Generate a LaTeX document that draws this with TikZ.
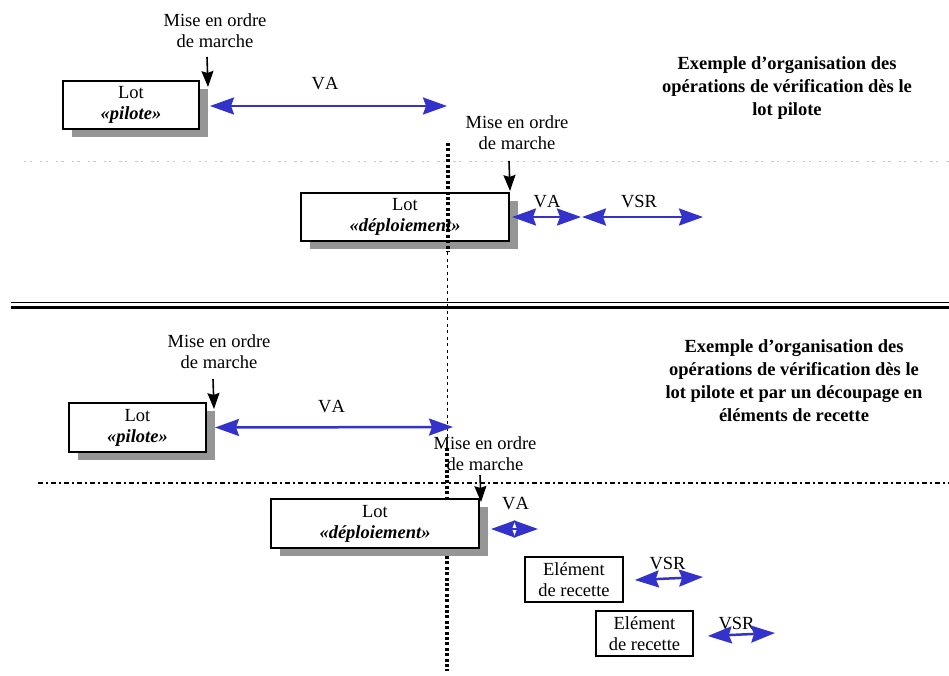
\documentclass[tikz,border=0pt]{standalone}
\usepackage{fontspec}
\setmainfont[Kerning=Off]{Liberation Serif}
\usetikzlibrary{arrows.meta,calc,shadows}
\definecolor{vblue}{RGB}{51,51,204}
\definecolor{shadowgray}{RGB}{150,150,150}
\definecolor{lightdots}{RGB}{200,200,200}
\tikzset{
  boxshadow/.style={drop shadow={shadow xshift=9pt,shadow yshift=-8pt,fill=shadowgray,opacity=1}},
  lotbox/.style={draw, line width=2pt, fill=white, inner sep=0pt, align=center,
    font=\fontsize{18.5}{21}\selectfont, boxshadow},
  elbox/.style={draw, line width=1.6pt, fill=white, inner sep=0pt, align=center,
    font=\fontsize{18.5}{21}\selectfont},
  lbl/.style={inner sep=0pt, align=center, font=\fontsize{18.5}{21.5}\selectfont},
  ttl/.style={inner sep=0pt, align=center, font=\fontsize{18.5}{23}\selectfont\bfseries},
  dur/.style={draw=vblue, line width=2.5pt,
    {Stealth[length=24pt,width=17pt,inset=3pt]}-{Stealth[length=24pt,width=17pt,inset=3pt]}},
  milestone/.style={draw, line width=1.6pt, -{Stealth[length=16pt,width=12pt,inset=2pt]}},
  thickdots/.style={line width=3.2pt, dash pattern=on 3pt off 2.4pt},
  thindash/.style={line width=0.9pt, dash pattern=on 3pt off 3.5pt},
}
\begin{document}
\begin{tikzpicture}[x=1pt,y=-1pt]
\useasboundingbox (0,0) rectangle (949,675);

% separators
\draw[lightdots, line width=1pt, dash pattern=on 2.3pt off 3.3pt on 2.3pt off 8pt] (24,161) -- (949,161);
\draw[line width=1.5pt] (11,302.5) -- (949,302.5);
\draw[line width=3.5pt] (11,307.5) -- (949,307.5);
\draw[line width=2.5pt, dash pattern=on 5pt off 3pt on 2pt off 3pt] (38,483) -- (949,483);

% vertical reference line (lower parts, behind boxes)
\draw[thindash] (447.5,252) -- (447.5,448);
\draw[thickdots] (447,448) -- (447,671);

% titles
\node[ttl, anchor=north] (title1) at (787,56) {Exemple d’organisation des\\opérations de vérification dès le\\lot pilote};
\node[ttl, anchor=north] (title2) at (794,339) {Exemple d’organisation des\\opérations de vérification dès le\\lot pilote et par un découpage en\\éléments de recette};

% ---------- upper example ----------
\node[lotbox, minimum width=136pt, minimum height=48pt] (P1) at (131,105) {Lot\\\textbf{\textit{«pilote»}}};
\node[lotbox, minimum width=208pt, minimum height=48pt] (D1) at (405,217) {Lot\\\textbf{\textit{«déploiement»}}};
\draw[thickdots] (448,143) -- (448,252);

\node[lbl, anchor=south] (M1) at (215,48) {Mise en ordre\\de marche};
\coordinate (m1s) at (207,57);
\draw[milestone] (m1s) -- ($(P1.north east)+(8,7)$);
\node[lbl, anchor=south] (M2) at (517,150) {Mise en ordre\\de marche};
\coordinate (m2s) at (509,161);
\draw[milestone] (m2s) -- ($(D1.north east)+(0,-1)$);

\node[lbl, anchor=base] (VA1) at (325,89) {VA};
\coordinate (va1e) at (447,106);
\draw[dur] ($(P1.east)+(10,1)$) -- (va1e);

\node[lbl, anchor=base] (VA2) at (547,207) {VA};
\coordinate (va2e) at (581,217);
\draw[dur] ($(D1.east)+(2,0)$) -- (va2e);
\node[lbl, anchor=base] (VSR1) at (639,207) {VSR};
\coordinate (vsr1e) at (703,217);
\draw[dur] ($(va2e)+(1,0)$) -- (vsr1e);

% ---------- lower example ----------
\node[lotbox, minimum width=137pt, minimum height=49pt] (P2) at (137.5,427.5) {Lot\\\textbf{\textit{«pilote»}}};
\node[lbl, anchor=south] (M3) at (219,369) {Mise en ordre\\de marche};
\coordinate (m3s) at (213,379);
\draw[milestone] (m3s) -- ($(P2.north east)+(7,7)$);
\node[lbl, anchor=base] (VA3) at (331.5,412) {VA};
\coordinate (va3e) at (453,427);
\draw[dur] ($(P2.east)+(8,0)$) -- (va3e);

\node[lotbox, minimum width=208pt, minimum height=49pt] (D2) at (375,523.5) {Lot\\\textbf{\textit{«déploiement»}}};
\node[lbl, anchor=south] (M4) at (485,471) {Mise en ordre\\de marche};
\coordinate (m4s) at (480,475);
\draw[milestone] (m4s) -- ($(D2.north east)+(1,4)$);
\node[lbl, anchor=base] (VA4) at (515.5,509) {VA};
\coordinate (va4e) at (538,529);
\draw[dur] ($(D2.east)+(11,5.5)$) -- (va4e);

\node[elbox, minimum width=98pt, minimum height=45pt] (E1) at (574,579.5) {Elément\\de recette};
\node[lbl, anchor=base] (VSR2) at (667.5,569) {VSR};
\coordinate (vsr2e) at (703,577);
\draw[dur] ($(E1.east)+(11,0.5)$) -- (vsr2e);

\node[elbox, minimum width=97pt, minimum height=45pt] (E2) at (644.5,633.5) {Elément\\de recette};
\node[lbl, anchor=base] (VSR3) at (736.5,629) {VSR};
\coordinate (vsr3e) at (775,633);
\draw[dur] ($(E2.east)+(14,2.5)$) -- (vsr3e);
\end{tikzpicture}
\end{document}
